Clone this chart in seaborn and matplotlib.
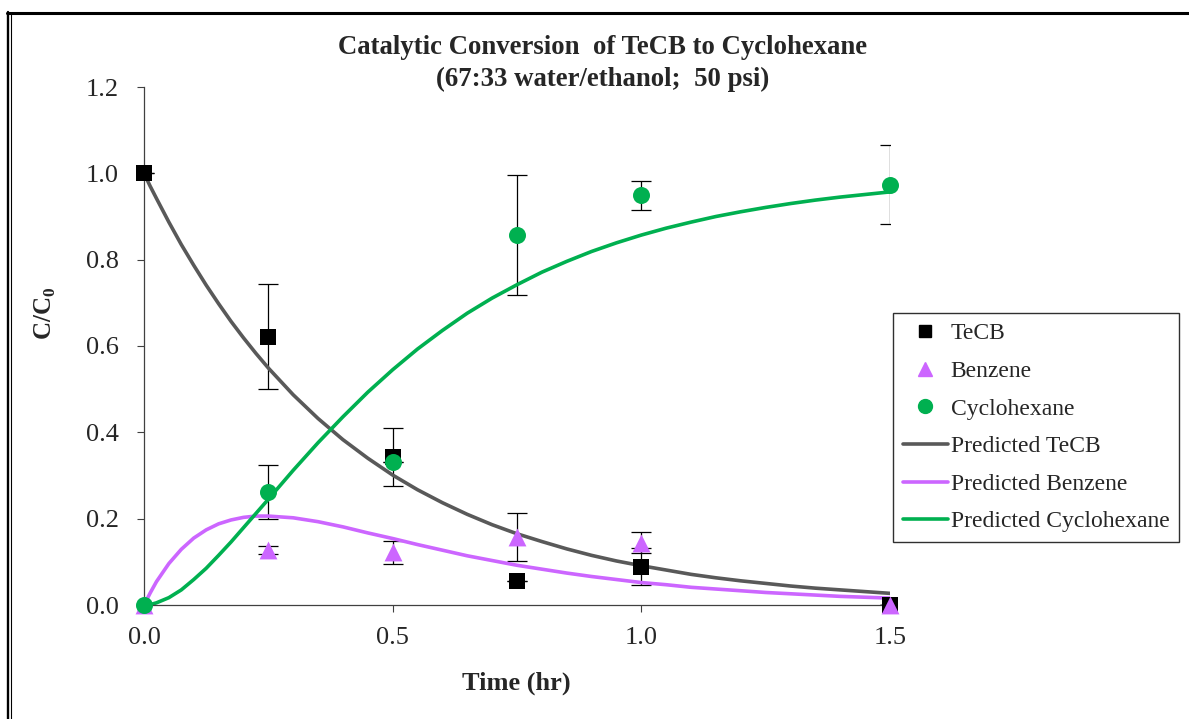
import numpy as np
import pandas as pd
import matplotlib.pyplot as plt
import seaborn as sns
from matplotlib.lines import Line2D

# Measured concentrations (C/C0) with error bars
time_pts = [0.0, 0.25, 0.5, 0.75, 1.0, 1.5]
tecb = [1.0, 0.622, 0.343, 0.056, 0.089, 0.0]
tecb_err = [0.0, 0.122, 0.067, 0.0, 0.043, 0.0]
benzene = [0.0, 0.127, 0.122, 0.158, 0.144, 0.0]
benzene_err = [0.0, 0.010, 0.027, 0.056, 0.024, 0.0]
cyclohexane = [0.0, 0.262, 0.332, 0.857, 0.949, 0.974]
cyclo_err = [0.0, 0.062, 0.0, 0.139, 0.034, 0.092]

# Predicted curves
time_pred = [0.0, 0.0125, 0.025, 0.05, 0.075, 0.10, 0.125, 0.15, 0.175, 0.20, 0.225, 0.25,
             0.30, 0.35, 0.40, 0.45, 0.50, 0.55, 0.60, 0.65, 0.70, 0.75, 0.80, 0.85,
             0.90, 0.95, 1.00, 1.05, 1.10, 1.15, 1.20, 1.25, 1.30, 1.35, 1.40, 1.45, 1.50]
pred_tecb = [1.000, 0.970, 0.942, 0.887, 0.835, 0.787, 0.741, 0.698, 0.657, 0.619, 0.583, 0.549,
             0.487, 0.432, 0.383, 0.340, 0.301, 0.267, 0.237, 0.210, 0.186, 0.165, 0.147, 0.130,
             0.115, 0.102, 0.091, 0.081, 0.071, 0.063, 0.056, 0.050, 0.044, 0.039, 0.035, 0.031, 0.027]
pred_benzene = [0.000, 0.028, 0.054, 0.096, 0.129, 0.155, 0.174, 0.188, 0.197, 0.203, 0.206, 0.206,
                0.202, 0.193, 0.181, 0.167, 0.154, 0.140, 0.127, 0.114, 0.103, 0.092, 0.083, 0.074,
                0.066, 0.059, 0.052, 0.047, 0.041, 0.037, 0.033, 0.029, 0.026, 0.023, 0.020, 0.018, 0.016]
pred_cyclo = [0.000, 0.001, 0.005, 0.017, 0.035, 0.059, 0.085, 0.115, 0.146, 0.179, 0.212, 0.245,
              0.312, 0.376, 0.436, 0.493, 0.545, 0.593, 0.636, 0.676, 0.711, 0.742, 0.771, 0.796,
              0.819, 0.839, 0.857, 0.873, 0.887, 0.900, 0.911, 0.921, 0.930, 0.938, 0.945, 0.951, 0.957]

sns.set_style("white")
plt.rcParams['font.family'] = ['Liberation Serif', 'DejaVu Serif']
plt.rcParams['mathtext.fontset'] = 'custom'
plt.rcParams['mathtext.rm'] = 'Liberation Serif'
plt.rcParams['mathtext.bf'] = 'Liberation Serif:bold'

c_tecb = '#000000'
c_tecb_line = '#595959'
c_benz = '#CC66FF'
c_cyc = '#00B050'

W, H = 1189, 719
fig = plt.figure(figsize=(W / 100, H / 100), dpi=100)
ax = fig.add_axes([144 / W, 1 - 605 / H, (890 - 144) / W, (605 - 87) / H])

pts = pd.DataFrame({'t': time_pts, 'tecb': tecb, 'benz': benzene, 'cyc': cyclohexane})
pred = pd.DataFrame({'t': time_pred, 'tecb': pred_tecb, 'benz': pred_benzene, 'cyc': pred_cyclo})

# error bars
for vals, errs in [(tecb, tecb_err), (benzene, benzene_err), (cyclohexane, cyclo_err)]:
    ax.errorbar(time_pts, vals, yerr=errs, fmt='none', ecolor='black',
                elinewidth=0.9, capsize=7, capthick=0.9, zorder=1)

# predicted lines
sns.lineplot(data=pred, x='t', y='tecb', color=c_tecb_line, lw=2.6, ax=ax, zorder=2)
sns.lineplot(data=pred, x='t', y='benz', color=c_benz, lw=2.6, ax=ax, zorder=2)
sns.lineplot(data=pred, x='t', y='cyc', color=c_cyc, lw=2.6, ax=ax, zorder=2)

# measured points
sns.scatterplot(data=pts, x='t', y='tecb', marker='s', s=135, color=c_tecb,
                linewidth=0, ax=ax, zorder=3, clip_on=False)
sns.scatterplot(data=pts, x='t', y='benz', marker='^', s=165, color=c_benz,
                linewidth=0, ax=ax, zorder=4, clip_on=False)
sns.scatterplot(data=pts, x='t', y='cyc', marker='o', s=150, color=c_cyc,
                linewidth=0, ax=ax, zorder=5, clip_on=False)

ax.set_xlim(0, 1.5)
ax.set_ylim(0, 1.2)
ax.set_xticks([0.0, 0.5, 1.0, 1.5])
ax.set_yticks([0.0, 0.2, 0.4, 0.6, 0.8, 1.0, 1.2])
ax.xaxis.set_major_formatter(plt.FormatStrFormatter('%.1f'))
ax.yaxis.set_major_formatter(plt.FormatStrFormatter('%.1f'))
ax.tick_params(axis='both', labelsize=19, direction='out', length=5, width=0.8,
               color='#404040')
ax.tick_params(axis='y', pad=13, left=True)
ax.tick_params(axis='x', pad=11, bottom=True)
sns.despine(ax=ax)
for side in ['left', 'bottom']:
    ax.spines[side].set_color('#404040')
    ax.spines[side].set_linewidth(0.9)
ax.set_xlabel('')
ax.set_ylabel('')

fig.text(516 / W, 1 - 683 / H, 'Time (hr)', ha='center', va='center',
         fontsize=19, fontweight='bold')
fig.text(45 / W, 1 - 313 / H, r'C/C$_\mathbf{0}$', ha='center', va='center',
         rotation=90, fontsize=18, fontweight='bold')
fig.text(603 / W, 1 - 48 / H, 'Catalytic Conversion  of TeCB to Cyclohexane',
         ha='center', va='center', fontsize=19.3, fontweight='bold')
fig.text(603 / W, 1 - 79 / H, '(67:33 water/ethanol;  50 psi)',
         ha='center', va='center', fontsize=19.3, fontweight='bold')

handles = [
    Line2D([], [], ls='none', marker='s', ms=9, color=c_tecb),
    Line2D([], [], ls='none', marker='^', ms=10, color=c_benz),
    Line2D([], [], ls='none', marker='o', ms=10, color=c_cyc),
    Line2D([], [], color=c_tecb_line, lw=2.6),
    Line2D([], [], color=c_benz, lw=2.6),
    Line2D([], [], color=c_cyc, lw=2.6),
]
labels = ['TeCB', 'Benzene', 'Cyclohexane', 'Predicted TeCB',
          'Predicted Benzene', 'Predicted Cyclohexane']
leg = fig.legend(handles, labels, loc='upper left', bbox_to_anchor=(893 / W, 1 - 313 / H),
                 fontsize=17, frameon=True, fancybox=False, edgecolor='#303030',
                 framealpha=1, handlelength=1.9, handletextpad=0.12,
                 labelspacing=0.68, borderpad=0.42, borderaxespad=0)
leg.get_frame().set_linewidth(1.0)

# outer frame
fig.add_artist(Line2D([7 / W, 1], [1 - 12.5 / H] * 2, transform=fig.transFigure,
                      color='black', lw=2.2))
fig.add_artist(Line2D([8.3 / W] * 2, [0, 1 - 11.5 / H], transform=fig.transFigure,
                      color='black', lw=1.7))
fig.add_artist(Line2D([10.8 / W] * 2, [0, 1 - 13 / H], transform=fig.transFigure,
                      color='black', lw=0.8))

fig.savefig('out.png', dpi=100, facecolor='white')
